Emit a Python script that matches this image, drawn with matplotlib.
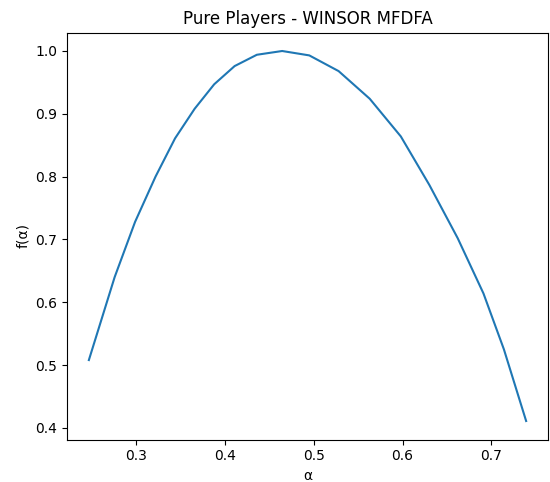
import numpy as np
import matplotlib
matplotlib.use("Agg")
import matplotlib.pyplot as plt

alpha = [0.247, 0.276, 0.299, 0.322, 0.344, 0.366, 0.388, 0.411, 0.436, 0.4645,
         0.495, 0.528, 0.563, 0.598, 0.630, 0.662, 0.691, 0.714, 0.739]
f_alpha = [0.508, 0.640, 0.728, 0.800, 0.861, 0.908, 0.947, 0.976, 0.994, 1.0,
           0.993, 0.968, 0.924, 0.864, 0.787, 0.702, 0.614, 0.525, 0.411]

fig = plt.figure(figsize=(5.5, 4.82), dpi=100)
ax = fig.add_axes([67/550, 1 - 439.5/482, (548 - 67)/550, (439.5 - 32.5)/482])
ax.plot(alpha, f_alpha)
ax.set_title("Pure Players - WINSOR MFDFA")
ax.set_xlabel("α")
ax.set_ylabel("f(α)")
fig.savefig("out.png", dpi=100)
